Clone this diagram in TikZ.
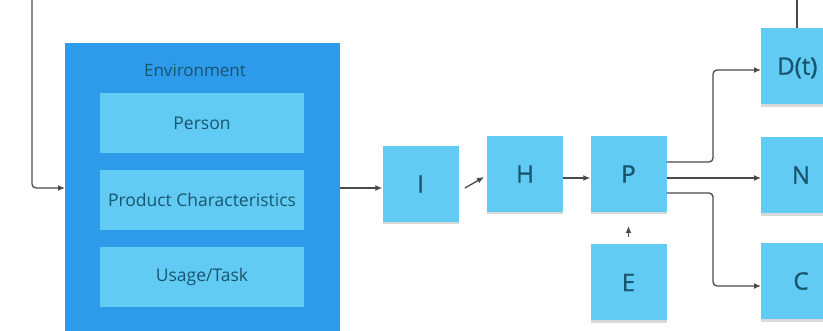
\documentclass[tikz,border=0pt]{standalone}
\usepackage{fontspec}
\setmainfont{Open Sans}
\newfontfamily\semib{Open Sans}[FakeBold=1.2]
\usetikzlibrary{arrows.meta,shadows}
\definecolor{outerblue}{HTML}{2E9AEA}
\definecolor{innerblue}{HTML}{62CBF4}
\definecolor{txt}{HTML}{185670}
\definecolor{linec}{HTML}{4A4A4A}
\tikzset{
  note/.style={fill=innerblue, draw=none, minimum width=76pt, minimum height=76pt, inner sep=0pt,
    text=txt, font=\semib\fontsize{24}{26}\selectfont,
    drop shadow={shadow xshift=0pt, shadow yshift=-2.5pt, opacity=0.3, fill=gray}},
  notelab/.style={text=txt, font=\semib\fontsize{24}{26}\selectfont},
  inner/.style={fill=innerblue, draw=none, minimum width=204pt, minimum height=60pt, inner sep=0pt,
    text=txt, font=\fontsize{17.5}{19}\selectfont},
  conn/.style={draw=linec, line width=1.3pt, -{Latex[length=7pt,width=6pt]}, rounded corners=4pt},
}
\begin{document}
\begin{tikzpicture}[x=1pt,y=-1pt]
\useasboundingbox (0,0) rectangle (823,331);
% Environment
\node[fill=outerblue, minimum width=275pt, minimum height=290pt, inner sep=0pt, anchor=north west] (env) at (65,43) {};
\node[text=txt, font=\fontsize{17}{19}\selectfont] (envlab) at (195,70) {Environment};
\node[inner] (person) at (202,123.5) {Person};
\node[inner] (prod) at (202,200) {Product Characteristics};
\node[inner] (usage) at (202,277) {Usage/Task};
% notes
\node[note] (I) at (420.5,184) {I};
\node[note] (H) at (525,174) {H};
\node[note] (P) at (628.5,174) {P};
\node[note] (E) at (628.5,282.5) {E};
\node[note, anchor=north west] (D) at (761,28) {};
\node[notelab, anchor=west, inner sep=0pt] (Dlab) at (777,68) {D(t)};
\node[note, anchor=north west] (N) at (761,137) {};
\node[notelab] (Nlab) at (801,175) {N};
\node[note, anchor=north west] (C) at (761,243) {};
\node[notelab] (Clab) at (801,281) {C};
% coordinates
\coordinate (topL) at (32,0);
\coordinate (topD) at (797,0);
\coordinate (y188) at (0,188);
\coordinate (y178) at (0,178);
\coordinate (y162) at (0,162);
\coordinate (y193) at (0,193);
\coordinate (y70) at (0,70);
\coordinate (y286) at (0,286);
\coordinate (ihs) at (465,188);
\coordinate (ihe) at (484,177);
\coordinate (eps) at (628.5,237);
\coordinate (epe) at (628.5,226);
\coordinate (bx) at (713,0);
% connectors
\draw[conn] (topL) |- (env.west |- y188);
\draw[draw=linec, line width=1.3pt] (topD) -- (D.north -| topD);
\draw[conn] (env.east |- y188) -- (I.west |- y188);
\draw[conn] (ihs) -- (ihe);
\draw[conn] (H.east |- y178) -- (P.west |- y178);
\draw[conn] (eps) -- (epe);
\draw[conn] (P.east |- y162) -- (bx |- y162) -- (bx |- y70) -- (D.west |- y70);
\draw[conn] (P.east |- y178) -- (N.west |- y178);
\draw[conn] (P.east |- y193) -- (bx |- y193) -- (bx |- y286) -- (C.west |- y286);
\end{tikzpicture}
\end{document}
